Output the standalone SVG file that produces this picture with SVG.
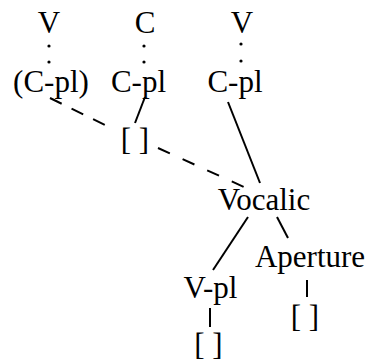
<svg xmlns="http://www.w3.org/2000/svg" width="365" height="364" viewBox="0 0 365 364">
<style>
text{font-family:"Liberation Serif","Times New Roman",serif;font-size:31px;fill:#000;text-anchor:middle}
.l{stroke:#000;stroke-width:2;fill:none}
.d{stroke:#000;stroke-width:2;fill:none;stroke-dasharray:13 11}
.dot{fill:#000}
</style>
<rect width="365" height="364" fill="#fff"/>
<g id="connectors">
<circle class="dot" cx="49" cy="46" r="1.6"/>
<circle class="dot" cx="49" cy="62" r="1.6"/>
<circle class="dot" cx="144" cy="46" r="1.6"/>
<circle class="dot" cx="144" cy="62" r="1.6"/>
<circle class="dot" cx="241" cy="44" r="1.6"/>
<circle class="dot" cx="241" cy="61" r="1.6"/>
<line class="d" x1="50" y1="98" x2="107" y2="126"/>
<line class="l" x1="145" y1="97" x2="135" y2="123"/>
<line class="d" x1="158" y1="148" x2="255" y2="192" style="stroke-dasharray:13 14"/>
<line class="l" x1="228" y1="102" x2="260" y2="183"/>
<line class="l" x1="248" y1="217" x2="213" y2="270"/>
<line class="l" x1="277" y1="217" x2="288" y2="238"/>
<line class="l" x1="210" y1="308" x2="210" y2="327"/>
<line class="l" x1="307" y1="280" x2="307" y2="297"/>
</g>
<g id="n-v1"><text x="49" y="33">V</text></g>
<g id="n-c"><text x="145" y="33">C</text></g>
<g id="n-v2"><text x="242" y="33">V</text></g>
<g id="n-cpl1"><text x="51" y="92">(C-pl)</text></g>
<g id="n-cpl2"><text x="138.5" y="92">C-pl</text></g>
<g id="n-cpl3"><text x="235" y="92">C-pl</text></g>
<g id="n-br1"><text x="135" y="150">[ ]</text></g>
<g id="n-vocalic"><text x="264" y="210">Vocalic</text></g>
<g id="n-vpl"><text x="210.5" y="298">V-pl</text></g>
<g id="n-aperture"><text x="310" y="267">Aperture</text></g>
<g id="n-br2"><text x="208.5" y="355">[ ]</text></g>
<g id="n-br3"><text x="305" y="327">[ ]</text></g>
</svg>
